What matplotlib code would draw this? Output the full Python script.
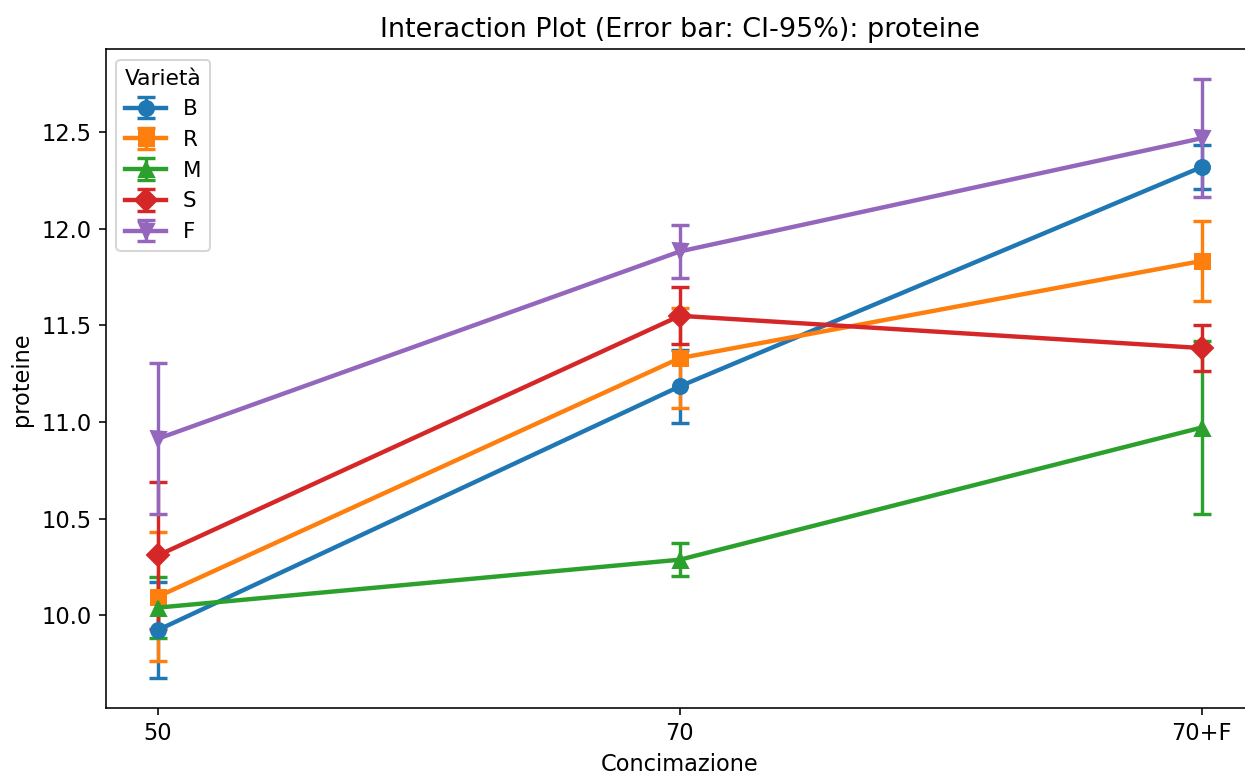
import numpy as np
import matplotlib.pyplot as plt

# Concimazione levels and mean proteine per Varietà, with 95% CI half-widths
levels = ['50', '70', '70+F']
varieta = ['B', 'R', 'M', 'S', 'F']

mean_B = [9.924, 11.185, 12.320]
mean_R = [10.097, 11.331, 11.834]
mean_M = [10.040, 10.288, 10.972]
mean_S = [10.310, 11.550, 11.383]
mean_F = [10.914, 11.883, 12.469]

ci_B = [0.250, 0.190, 0.113]
ci_R = [0.333, 0.258, 0.205]
ci_M = [0.158, 0.085, 0.447]
ci_S = [0.380, 0.148, 0.117]
ci_F = [0.391, 0.138, 0.306]

means = [mean_B, mean_R, mean_M, mean_S, mean_F]
cis = [ci_B, ci_R, ci_M, ci_S, ci_F]
markers = ['o', 's', '^', 'D', 'v']
colors = ['tab:blue', 'tab:orange', 'tab:green', 'tab:red', 'tab:purple']

plt.rcParams['font.size'] = 11.25

dpi = 144
W, H = 1245, 775
fig = plt.figure(figsize=(W / dpi, H / dpi), dpi=dpi)
# axes extends a bit past the right edge, as in the reference crop
ax = fig.add_axes([105.7 / W, 66.7 / H, (1254 - 105.7) / W, (708.3 - 49.3) / H])

for name, m, ci, mk, c in zip(varieta, means, cis, markers, colors):
    ax.errorbar(levels, m, yerr=ci, marker=mk, color=c, label=name,
                linewidth=2.2, markersize=7.5, elinewidth=1.7, capsize=4.5,
                capthick=1.7)

ax.set_xlim(-0.1, 2.1)
ax.set_ylim(9.519, 12.929)
ax.set_yticks([10.0, 10.5, 11.0, 11.5, 12.0, 12.5])
ax.set_xlabel('Concimazione')
ax.set_ylabel('proteine')
ax.set_title('Interaction Plot (Error bar: CI-95%): proteine')
ax.legend(title='Varietà', loc='upper left', fontsize=10.7, title_fontsize=10.9,
          labelspacing=0.5, handlelength=1.9)

fig.savefig('out.png', dpi=dpi)
